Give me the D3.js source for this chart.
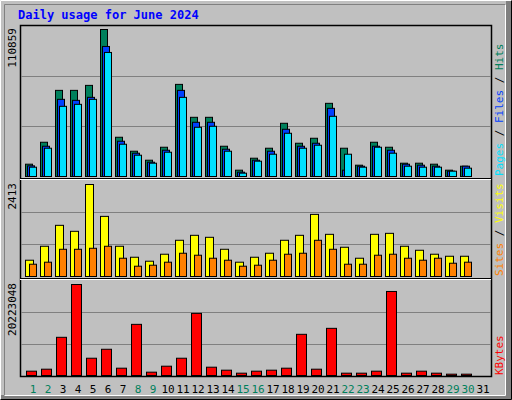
<!DOCTYPE html><html><head><meta charset="utf-8">
<script src="https://cdn.jsdelivr.net/npm/d3@7"></script>
<style>body{margin:0;background:#fff}</style></head><body><svg id="c" width="512" height="400"></svg>
<script>
const days=d3.range(1,32);
const weekend=[1,2,8,9,15,16,22,23,29,30];
const hits=[9280,25830,64960,64960,68720,110859,29600,19060,12290,22070,69470,44640,44640,22820,4770,13790,21320,40130,25080,28840,55180,21320,8530,25830,22070,10030,10030,9280,4770,7770,0];
const files=[8030,22820,58190,57430,59690,98070,26590,17560,10780,19810,64960,40880,40880,20570,3260,12290,19060,35610,22820,25080,51410,4770,7770,22820,19810,9280,8530,7770,4010,7770,0];
const pages=[7020,21320,52920,54420,58190,93550,24330,16050,10030,18310,59690,37120,37870,19060,2510,11540,16800,32600,21320,23580,45400,16800,7020,22070,17560,7770,7020,7020,4010,6270,0];
const visits=[427,793,1342,1185,2413,1577,793,505,401,584,950,1080,1028,714,375,505,610,950,1080,1629,1106,767,479,1106,1132,793,688,584,531,531,0];
const sites=[322,375,714,714,740,793,479,270,296,375,610,558,479,427,270,296,427,584,610,950,714,322,322,558,584,479,427,479,348,375,0];
const kbytes=[959500,1402300,8487800,20223048,3838000,5830800,1623800,11366300,738100,2066600,3838000,13801900,1845200,1180900,516600,959500,1180900,1623800,9152100,1402300,10480600,516600,516600,959500,18673200,516600,959500,516600,295200,295200,0];

const svg=d3.select("#c");
const F="'DejaVu Sans Mono',monospace";
// background + bevel
svg.append("rect").attr("width",512).attr("height",400).attr("fill","#c0c0c0");
svg.append("path").attr("d","M0.5,399.5V0.5H511.5").attr("stroke","#fff").attr("fill","none");
svg.append("path").attr("d","M0.5,399.5H511.5V0.5").attr("stroke","#000").attr("fill","none");
svg.append("rect").attr("x",506).attr("y",1).attr("width",5).attr("height",398).attr("fill","#808080");
svg.append("rect").attr("x",1).attr("y",395).attr("width",510).attr("height",4).attr("fill","#808080");
svg.append("path").attr("d","M4.5,395.5V4.5H506.5").attr("stroke","#808080").attr("fill","none");
svg.append("path").attr("d","M4.5,395.5H505.5V4.5").attr("stroke","#fff").attr("fill","none");

svg.append("text").attr("x",18).attr("y",19).attr("font-family",F).attr("font-weight","bold").attr("font-size",12).attr("fill","#0000ff").text("Daily usage for June 2024");

const L=20,R=491;
const x=d3.scaleBand().domain(days).range([24,24+15*31]).padding(0);
// frame
svg.append("rect").attr("x",L+.5).attr("y",25.5).attr("width",R-L).attr("height",351).attr("fill","#c0c0c0").attr("stroke","#000").attr("stroke-width",1.5);
svg.append("line").attr("x1",L).attr("x2",R).attr("y1",178.5).attr("y2",178.5).attr("stroke","#000");
svg.append("line").attr("x1",L).attr("x2",R).attr("y1",179.5).attr("y2",179.5).attr("stroke","#fff");
svg.append("line").attr("x1",L).attr("x2",R).attr("y1",278.5).attr("y2",278.5).attr("stroke","#000");
svg.append("line").attr("x1",L).attr("x2",R).attr("y1",279.5).attr("y2",279.5).attr("stroke","#fff");

function panel(base,top,max,series,ylabel,rlabels){
  const y=d3.scaleLinear().domain([0,max]).range([base,top]);
  const h=base-top;
  const full=(base-(top-3.5));
  [1/3,2/3].forEach(f=>svg.append("line").attr("x1",L+1).attr("x2",R).attr("y1",Math.round(base-f*full)+.5).attr("y2",Math.round(base-f*full)+.5).attr("stroke","#808080"));
  series.forEach(s=>{
    svg.append("g").selectAll("rect").data(s.data).join("rect")
      .filter(d=>d>0)
      .attr("x",(d,i)=>x(days[i])+s.off+.5).attr("width",s.w)
      .attr("y",d=>y(d)+.5).attr("height",d=>base-y(d))
      .attr("fill",s.color).attr("stroke","#000");
  });
  svg.append("text").attr("transform",`translate(16,${top-1}) rotate(-90)`).attr("text-anchor","end")
    .attr("font-family",F).attr("font-size",11).attr("fill","#000").text(ylabel);
  const t=svg.append("text").attr("transform",`translate(503,${base}) rotate(-90)`)
    .attr("font-family",F).attr("font-size",11);
  rlabels.forEach((r,i)=>{ if(i) t.append("tspan").attr("fill","#000").text(" / "); t.append("tspan").attr("fill",r[1]).text(r[0]);});
}
panel(176,29,110859,[{data:hits,off:1,w:7,color:"#00805c"},{data:files,off:3,w:7,color:"#0040ff"},{data:pages,off:5,w:7,color:"#00e0ff"}],"110859",[["Pages","#00e0ff"],["Files","#0040ff"],["Hits","#00805c"]]);
panel(276,184,2413,[{data:visits,off:1,w:8,color:"#ffff00"},{data:sites,off:5,w:7,color:"#ff8000"}],"2413",[["Sites","#ff8000"],["Visits","#ffff00"]]);
panel(375,284,20223048,[{data:kbytes,off:2,w:10,color:"#ff0000"}],"20223048",[["KBytes","#ff0000"]]);

svg.append("g").selectAll("text").data(days).join("text")
  .attr("x",d=>x(d)+9).attr("y",393).attr("text-anchor","middle")
  .attr("font-family",F).attr("font-size",11)
  .attr("fill",d=>weekend.includes(d)?"#00805c":"#000").text(d=>d);
</script></body></html>
